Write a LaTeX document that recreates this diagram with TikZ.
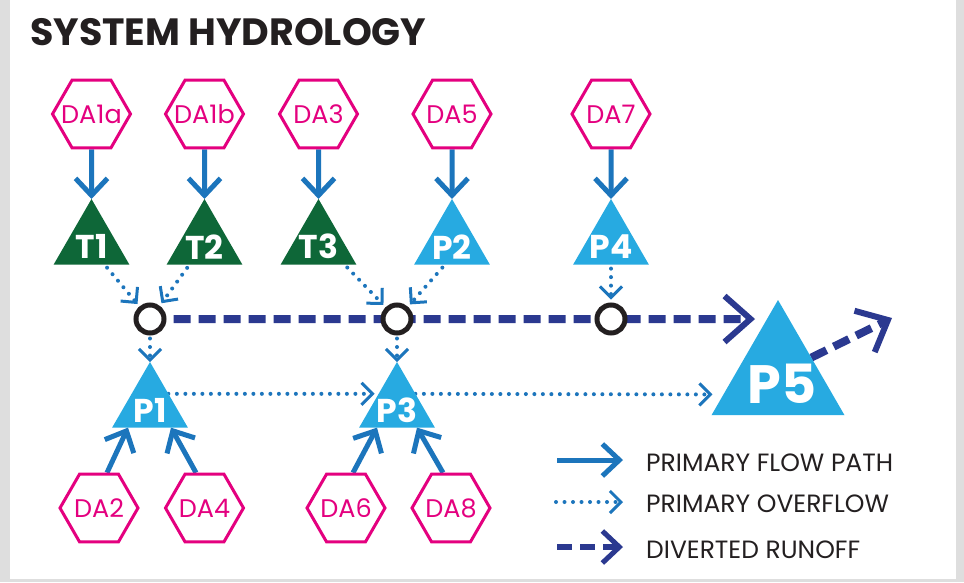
\documentclass[tikz,border=0pt]{standalone}
\usepackage{fontspec}
\setmainfont{Poppins}
\usetikzlibrary{shapes.geometric,arrows.meta,calc,backgrounds}
\definecolor{dapink}{RGB}{228,0,127}
\definecolor{tgreen}{RGB}{14,103,56}
\definecolor{pblue}{RGB}{39,170,225}
\definecolor{fblue}{RGB}{28,117,188}
\definecolor{navy}{RGB}{43,57,144}
\definecolor{jblack}{RGB}{35,31,32}
\definecolor{marble}{RGB}{222,222,222}
\tikzset{
  area/.style={regular polygon, regular polygon sides=6, minimum size=78pt, inner sep=-10pt,
    draw=dapink, line width=3pt, text=dapink, font=\fontsize{25.5}{25.5}\selectfont},
  tank/.style={regular polygon, regular polygon sides=3, minimum size=87.5pt, inner sep=0pt,
    outer sep=0pt, fill=tgreen},
  pond/.style={tank, fill=pblue},
  tanktext/.style={text=white, inner sep=0pt, font=\bfseries\fontsize{33}{33}\selectfont},
  junc/.style={circle, draw=jblack, fill=white, line width=5pt, minimum size=28pt, inner sep=0pt},
  flow/.style={draw=fblue, line width=5pt, -{Straight Barb[length=17pt,width=32pt]}},
  overflow/.style={draw=fblue, line width=4pt, line cap=round, dash pattern=on 0pt off 8.5pt,
    -{Straight Barb[length=11pt,width=22pt,line width=3pt]}},
  divert/.style={draw=navy, line width=8pt, dash pattern=on 17pt off 8pt,
    -{Straight Barb[length=26pt,width=46pt,line width=6pt]}},
  legendtext/.style={anchor=base west, inner sep=0pt, text=jblack, font=\fontsize{25}{25}\selectfont}
}
\begin{document}
\begin{tikzpicture}[x=1pt,y=-1pt]
    \node (title) [anchor=base west, inner sep=0pt, text=jblack, font=\bfseries\fontsize{38}{38}\selectfont]
        at (30,45) {SYSTEM HYDROLOGY};

    % drainage areas, top row
    \node[area] (DA1a) at (91.5,114) {DA1a};
    \node[area] (DA1b) at (204.5,114) {DA1b};
    \node[area] (DA3) at (318.5,114) {DA3};
    \node[area] (DA5) at (452,114) {DA5};
    \node[area] (DA7) at (611,114) {DA7};

    % tanks and ponds
    \node[tank] (T1) at (91.5,242.75) {};
    \node[tank] (T2) at (204.5,242.75) {};
    \node[tank] (T3) at (318.5,242.75) {};
    \node[pond] (P2) at (452,242.75) {};
    \node[pond] (P4) at (611,242.75) {};
    \node[tanktext] (T1t) at ([yshift=-4pt]T1.center) {T1};
    \node[tanktext] (T2t) at ([yshift=-4pt]T2.center) {T2};
    \node[tanktext] (T3t) at ([yshift=-4pt]T3.center) {T3};
    \node[tanktext] (P2t) at ([yshift=-4pt]P2.center) {P2};
    \node[tanktext] (P4t) at ([yshift=-4pt]P4.center) {P4};

    % junctions
    \node[junc] (J1) at (150,319) {};
    \node[junc] (J2) at (397,319) {};
    \node[junc] (J3) at (611,319) {};

    \node[pond] (P1) at (150,405.75) {};
    \node[pond] (P3) at (397,405.75) {};
    \node[pond, minimum size=153.6pt] (P5) at (778,376.8) {};
    \node[tanktext] (P1t) at ([yshift=-5pt]P1.center) {P1};
    \node[tanktext] (P3t) at ([yshift=-5pt]P3.center) {P3};
    \node[tanktext, font=\bfseries\fontsize{54}{54}\selectfont] (P5t) at ([xshift=4pt,yshift=-7pt]P5.center) {P5};

    % drainage areas, bottom row
    \node[area] (DA2) at (99,508) {DA2};
    \node[area] (DA4) at (204.5,508) {DA4};
    \node[area] (DA6) at (346,508) {DA6};
    \node[area] (DA8) at (451,508) {DA8};

    \coordinate (out) at (892,318);

    % legend
    \coordinate (l1a) at (557,460);
    \coordinate (l1b) at (623,460);
    \coordinate (l2a) at (556,502);
    \coordinate (l2b) at (623,502);
    \coordinate (l3a) at (557,547);
    \coordinate (l3b) at (623,547);
    \node[legendtext] (lg1) at (646,471) {PRIMARY FLOW PATH};
    \node[legendtext] (lg2) at (646,512) {PRIMARY OVERFLOW};
    \node[legendtext] (lg3) at (646,558) {DIVERTED RUNOFF};

    \begin{scope}[on background layer]
        \fill[marble] (0,0) rectangle (964,582);
        \fill[white] (10,0) rectangle (956,579);

        \draw[flow] (DA1a) -- (T1);
        \draw[flow] (DA1b) -- (T2);
        \draw[flow] (DA3) -- (T3);
        \draw[flow] (DA5) -- (P2);
        \draw[flow] (DA7) -- (P4);
        \draw[flow] ([xshift=8pt]DA2.north) -- ([xshift=-22pt]P1.south);
        \draw[flow] ([xshift=-8.5pt]DA4.north) -- ([xshift=21pt]P1.south);
        \draw[flow] ([xshift=7pt]DA6.north) -- ([xshift=-20pt]P3.south);
        \draw[flow] ([xshift=-8pt]DA8.north) -- ([xshift=20pt]P3.south);

        \draw[overflow, shorten <=4pt, shorten >=3pt] ([xshift=13pt]T1.south) -- (J1);
        \draw[overflow, shorten <=4pt, shorten >=3pt] ([xshift=-15pt]T2.south) -- (J1);
        \draw[overflow, shorten <=4pt, shorten >=3pt] ([xshift=26pt]T3.south) -- (J2);
        \draw[overflow, shorten <=4pt, shorten >=3pt] ([xshift=-7pt]P2.south) -- (J2);
        \draw[overflow, shorten <=4pt, shorten >=3pt] (P4.south) -- (J3);
        \draw[overflow, shorten <=3pt] (J1) -- (P1);
        \draw[overflow, shorten <=3pt] (J2) -- (P3);
        \draw[overflow, shorten >=4pt] ($(P1.corner 1)!0.485!(P1.corner 3)$) -- ($(P3.corner 1)!0.485!(P3.corner 2)$);
        \draw[overflow, shorten >=11pt] ($(P3.corner 1)!0.485!(P3.corner 3)$) -- ($(P5.corner 1)!0.82!(P5.corner 2)$);

        \draw[divert, shorten <=7pt, shorten >=12pt] (J1) -- ($(P5.corner 1)!0.165!(P5.corner 2)$);
        \draw[divert] ($(P5.corner 1)!0.5!(P5.corner 3)$) -- (out);

        \draw[flow] (l1a) -- (l1b);
        \draw[overflow] (l2a) -- (l2b);
        \draw[divert, line width=6pt, dash pattern=on 15pt off 8pt,
            -{Straight Barb[length=17pt,width=32pt,line width=5pt]}] (l3a) -- (l3b);
    \end{scope}
\end{tikzpicture}
\end{document}
